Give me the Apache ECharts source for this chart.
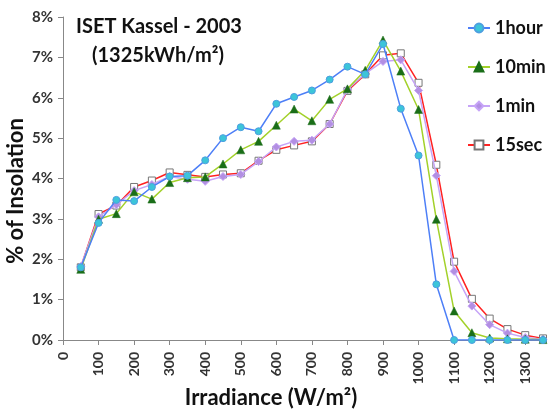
<!DOCTYPE html>
<html><head><meta charset="utf-8">
<script src="https://cdn.jsdelivr.net/npm/echarts@6/dist/echarts.min.js"></script>
<style>html,body{margin:0;padding:0;background:#fff}#c{width:549px;height:411px}</style>
</head><body><div id="c"></div>
<script>
const irradiance = [50,100,150,200,250,300,350,400,450,500,550,600,650,700,750,800,850,900,950,1000,1050,1100,1150,1200,1250,1300,1350];
const hour1 = [1.8,2.9,3.47,3.44,3.79,4.05,4.07,4.45,5.0,5.27,5.17,5.85,6.02,6.18,6.45,6.77,6.58,7.33,5.73,4.57,1.38,0,0,0,0,0,0];
const min10 = [1.75,2.99,3.13,3.67,3.49,3.9,4.02,4.04,4.36,4.71,4.92,5.32,5.72,5.43,5.96,6.22,6.68,7.43,6.66,5.71,2.99,0.72,0.18,0.05,0.03,0.02,0.01];
const min1 = [1.82,3.05,3.35,3.7,3.85,4.05,3.98,3.93,4.05,4.1,4.42,4.78,4.92,4.95,5.35,6.2,6.6,6.9,6.94,6.18,4.07,1.7,0.84,0.38,0.17,0.06,0.02];
const sec15 = [1.8,3.12,3.33,3.79,3.95,4.15,4.09,4.04,4.1,4.13,4.44,4.71,4.82,4.92,5.35,6.17,6.58,7.05,7.1,6.37,4.34,1.94,1.02,0.53,0.27,0.12,0.04];
const seriesNames = ['1hour','10min','1min','15sec'];
const xTicks = [0,100,200,300,400,500,600,700,800,900,1000,1100,1200,1300];
const yTicks = [0,1,2,3,4,5,6,7,8];

const pair = arr => irradiance.map((x,i)=>[x,arr[i]]);
const chart = echarts.init(document.getElementById('c'), null, {renderer:'canvas'});
const font = 'Lato, "Open Sans", sans-serif';
chart.setOption({
  animation:false,
  backgroundColor:'#fff',
  title:[
    {text:'ISET Kassel - 2003', left:71, top:12, textStyle:{fontFamily:font, fontSize:20, fontWeight:'bold', color:'#111'}},
    {text:'(1325kWh/m²)', left:87, top:41, textStyle:{fontFamily:font, fontSize:20, fontWeight:'bold', color:'#111'}}
  ],
  legend:{
    orient:'vertical', left:462, top:14, itemGap:21, itemWidth:22, itemHeight:11,
    textStyle:{fontFamily:font, fontSize:18, fontWeight:'bold', color:'#111', lineHeight:18},
    data:seriesNames
  },
  graphic:[
    {type:'text', x:271, y:398, style:{text:'Irradiance (W/m²)', align:'center', verticalAlign:'middle', fontFamily:font, fontSize:22, fontWeight:'bold', fill:'#111'}},
    {type:'text', x:16, y:191, rotation:Math.PI/2, style:{text:'% of Insolation', align:'center', verticalAlign:'middle', fontFamily:font, fontSize:22, fontWeight:'bold', fill:'#111'}}
  ],
  grid:{left:63, right:6, top:17, bottom:71, containLabel:false},
  xAxis:{
    type:'value', min:0, max:1350, interval:100,
    axisLine:{lineStyle:{color:'#888'}},
    axisTick:{lineStyle:{color:'#888'}, length:5},
    splitLine:{show:false},
    axisLabel:{rotate:90, fontFamily:font, fontSize:14, fontWeight:'bold', color:'#333', margin:12, showMaxLabel:false,
      formatter:v=> xTicks.includes(v)? String(v):''}
  },
  yAxis:{
    type:'value', min:0, max:8, interval:1,
    axisLine:{show:true, lineStyle:{color:'#888'}},
    axisTick:{show:true, lineStyle:{color:'#888'}, length:5},
    splitLine:{show:false},
    axisLabel:{fontFamily:font, fontSize:15, fontWeight:'bold', color:'#333', margin:10,
      formatter:v=> yTicks.includes(v)? v+'%':''}
  },
  series:[
    {name:'1hour', type:'line', data:pair(hour1), symbol:'circle', symbolSize:7,
      lineStyle:{color:'#4d7ff7', width:1.5}, itemStyle:{color:'#3cc5d9', borderColor:'#4d9fe0', borderWidth:1}, z:4},
    {name:'10min', type:'line', data:pair(min10), symbol:'triangle', symbolSize:8,
      lineStyle:{color:'#a3d12a', width:1.5}, itemStyle:{color:'#1a6e18', borderColor:'#1a6e18', borderWidth:0.5}, z:3},
    {name:'1min', type:'line', data:pair(min1), symbol:'diamond', symbolSize:8,
      lineStyle:{color:'#c6a4f7', width:1.5}, itemStyle:{color:'#b28fe2', borderColor:'#c6a4f7', borderWidth:1}, z:2},
    {name:'15sec', type:'line', data:pair(sec15), symbol:'rect', symbolSize:7,
      lineStyle:{color:'#ff2222', width:1.5}, itemStyle:{color:'#ffffff', borderColor:'#777', borderWidth:1}, z:1}
  ]
});
</script></body></html>
